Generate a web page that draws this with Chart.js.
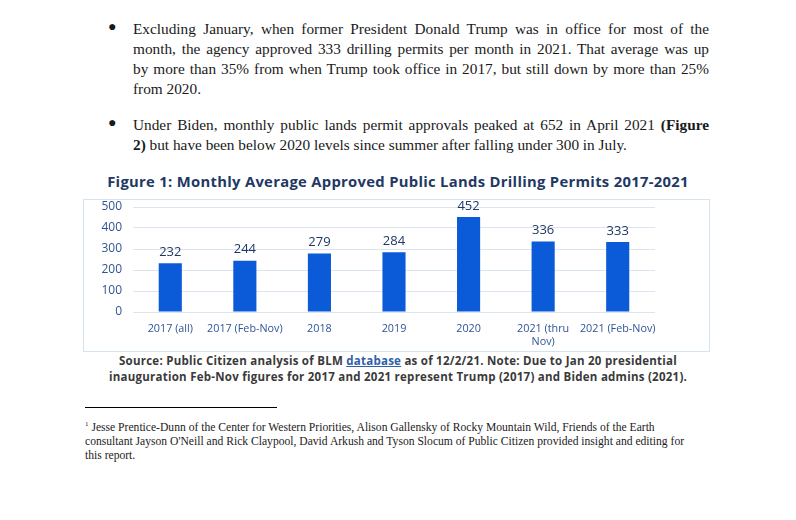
<!DOCTYPE html>
<html>
<head>
<meta charset="utf-8">
<script src="https://cdn.jsdelivr.net/npm/chart.js@4"></script>
<style>
  html, body { margin:0; padding:0; background:#fff; width:796px; height:520px; overflow:hidden; }
  body { position:relative; font-family:"Liberation Serif", serif; color:#1a1a1a; }
  .para { position:absolute; left:133px; width:576px; font-size:15.3px; line-height:20px; }
  .para div { white-space:nowrap; }
  .j { text-align:justify; text-align-last:justify; white-space:normal !important; }
  .bullet { position:absolute; font-size:14px; }
  #title { position:absolute; left:0; width:796px; top:171px; text-align:center; font-family:"Open Sans", sans-serif; font-weight:bold; font-size:14.8px; color:#1f3864; letter-spacing:0.3px; }
  #box { position:absolute; left:83px; top:199px; width:625px; height:151px; border:1px solid #d5e3ef; }
  #cap { position:absolute; left:0; width:796px; top:353px; text-align:center; font-family:"Open Sans", sans-serif; font-weight:bold; font-size:11.5px; line-height:16px; color:#3a3a3a; letter-spacing:0.25px; }
  #cap a { color:#2f5fa8; text-decoration:underline; }
  #rule { position:absolute; left:85px; top:407px; width:192px; height:1px; background:#000; }
  #foot { position:absolute; left:85px; top:417px; width:640px; font-size:11.6px; line-height:14px; color:#222; }
</style>
</head>
<body>
<div class="bullet" style="left:108px; top:19px;">&#9679;</div>
<div class="para" style="top:19px;">
  <div class="j">Excluding January, when former President Donald Trump was in office for most of the</div>
  <div class="j">month, the agency approved 333 drilling permits per month in 2021. That average was up</div>
  <div class="j">by more than 35% from when Trump took office in 2017, but still down by more than 25%</div>
  <div>from 2020.</div>
</div>
<div class="bullet" style="left:108px; top:115px;">&#9679;</div>
<div class="para" style="top:115px;">
  <div class="j">Under Biden, monthly public lands permit approvals peaked at 652 in April 2021 <b>(Figure</b></div>
  <div><b>2)</b> but have been below 2020 levels since summer after falling under 300 in July.</div>
</div>

<div id="title">Figure 1: Monthly Average Approved Public Lands Drilling Permits 2017-2021</div>
<div id="box"><canvas id="c" width="625" height="151"></canvas></div>
<div id="cap">Source: Public Citizen analysis of BLM <a>database</a> as of 12/2/21. Note: Due to Jan 20 presidential<br>inauguration Feb-Nov figures for 2017 and 2021 represent Trump (2017) and Biden admins (2021).</div>
<div id="rule"></div>
<div id="foot"><sup style="font-size:7px;">1</sup> Jesse Prentice-Dunn of the Center for Western Priorities, Alison Gallensky of Rocky Mountain Wild, Friends of the Earth<br>consultant Jayson O'Neill and Rick Claypool, David Arkush and Tyson Slocum of Public Citizen provided insight and editing for<br>this report.</div>

<script>
const categories = ["2017 (all)", "2017 (Feb-Nov)", "2018", "2019", "2020", ["2021 (thru", "Nov)"], "2021 (Feb-Nov)"];
const permits = [232, 244, 279, 284, 452, 336, 333];
const yTicks = [0, 100, 200, 300, 400, 500];

const valueLabels = {
  id: 'valueLabels',
  afterDatasetsDraw(chart) {
    const ctx = chart.ctx;
    const meta = chart.getDatasetMeta(0);
    ctx.save();
    ctx.font = '13px "Open Sans", sans-serif';
    ctx.fillStyle = '#1f3864';
    ctx.textAlign = 'center';
    ctx.textBaseline = 'middle';
    meta.data.forEach((bar, i) => {
      ctx.fillText(String(chart.data.datasets[0].data[i]), bar.x, bar.y - 11);
    });
    ctx.restore();
  }
};

new Chart(document.getElementById('c'), {
  type: 'bar',
  data: {
    labels: categories,
    datasets: [{
      data: permits,
      backgroundColor: '#0b5bd9',
      categoryPercentage: 1,
      barPercentage: 0.31
    }]
  },
  options: {
    responsive: false,
    animation: false,
    devicePixelRatio: 1,
    layout: { padding: { top: 7, right: 54, left: 0, bottom: 0 } },
    plugins: { legend: { display: false }, tooltip: { enabled: false } },
    scales: {
      x: {
        grid: { display: false, drawTicks: false },
        border: { display: false },
        ticks: { color: '#2f5496', font: { family: '"Open Sans", sans-serif', size: 10.8 }, padding: 10, maxRotation: 0, autoSkip: false },
        afterFit(scale) { scale.height = 39; scale.paddingLeft = 0; scale.paddingRight = 0; }
      },
      y: {
        min: 0, max: 500,
        afterBuildTicks(scale) { scale.ticks = yTicks.map(v => ({ value: v })); },
        grid: { color: '#dbe5f1', drawTicks: false, lineWidth: 1 },
        border: { display: false },
        ticks: { color: '#2f5496', font: { family: '"Open Sans", sans-serif', size: 12 }, padding: 11 },
        afterFit(scale) { scale.width = 49; scale.paddingTop = 0; scale.paddingBottom = 0; }
      }
    }
  },
  plugins: [valueLabels]
});
</script>
</body>
</html>
